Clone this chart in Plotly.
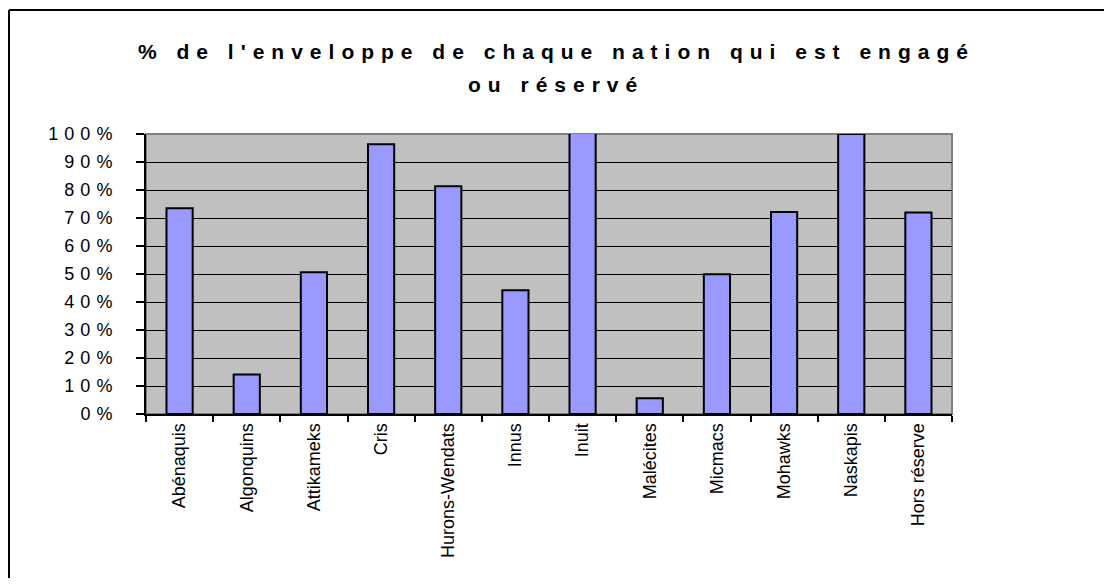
import plotly.graph_objects as go

nations = ["Abénaquis", "Algonquins", "Attikameks", "Cris", "Hurons-Wendats", "Innus",
           "Inuit", "Malécites", "Micmacs", "Mohawks", "Naskapis", "Hors réserve"]
pct_engage = [73.5, 14.1, 50.6, 96.3, 81.3, 44.2, 103, 5.6, 49.9, 72.1, 100, 72.0]
y_ticks = [0, 10, 20, 30, 40, 50, 60, 70, 80, 90, 100]
y_tick_text = [f"{v}%" for v in y_ticks]

OFF = 8  # page body margin offsets the figure in the screenshot
W, H = 1112 - OFF, 586 - 2 * OFF
ml, mt = 146 - OFF, 134 - OFF
pw, ph = 806, 280
mr, mb = W - ml - pw, H - mt - ph


def px_x(x):
    # screenshot x -> paper coordinate
    return (x - OFF - ml) / pw


def px_y(y):
    # screenshot y -> paper coordinate
    return (mt + ph - (y - OFF)) / ph


fig = go.Figure(
    go.Bar(
        x=nations, y=pct_engage,
        marker=dict(color="#9999FF", line=dict(color="black", width=2)),
    )
)

fig.update_layout(
    width=W, height=H,
    margin=dict(l=ml, r=mr, t=mt, b=mb),
    paper_bgcolor="white", plot_bgcolor="#C0C0C0",
    bargap=0.61, showlegend=False,
    font=dict(family="Liberation Sans, Arial", color="black", size=18),
)

fig.update_xaxes(
    showline=True, linecolor="black", linewidth=2,
    ticks="outside", tickson="boundaries", ticklen=6, tickwidth=2, tickcolor="black",
    tickangle=-90, tickfont=dict(size=18), showgrid=False,
)
fig.update_yaxes(
    range=[0, 100], tickvals=y_ticks,
    ticktext=[f'<span style="letter-spacing:6px">{t}</span>' for t in y_tick_text],
    showline=True, linecolor="black", linewidth=2,
    ticks="outside", ticklen=8, tickwidth=2, tickcolor="black",
    showgrid=True, gridcolor="black", gridwidth=1, zeroline=False,
    ticklabelstandoff=14,
)

# gray border on top/right of the plot area
fig.add_shape(type="rect", xref="paper", yref="paper", x0=0, x1=1, y0=0, y1=1,
              line=dict(color="#808080", width=2), layer="below")
# outer chart frame: top and left edges, kept inside the figure
frame = dict(color="black", width=2)
fig.add_shape(type="line", xref="paper", yref="paper",
              x0=px_x(9), x1=px_x(W + OFF), y0=px_y(10), y1=px_y(10), line=frame)
fig.add_shape(type="line", xref="paper", yref="paper",
              x0=px_x(9), x1=px_x(9), y0=px_y(10), y1=px_y(H + OFF), line=frame)

title_lines = ["% de l'enveloppe de chaque nation qui est engagé", "ou réservé"]
for line, ypix in zip(title_lines, [52, 84]):
    fig.add_annotation(
        text=f'<span style="letter-spacing:7px"><b>{line}</b></span>',
        xref="paper", yref="paper", x=px_x(556), y=px_y(ypix),
        showarrow=False, xanchor="center", yanchor="middle",
        font=dict(size=21, family="Liberation Sans, Arial"),
    )

fig.write_html("out.html")
